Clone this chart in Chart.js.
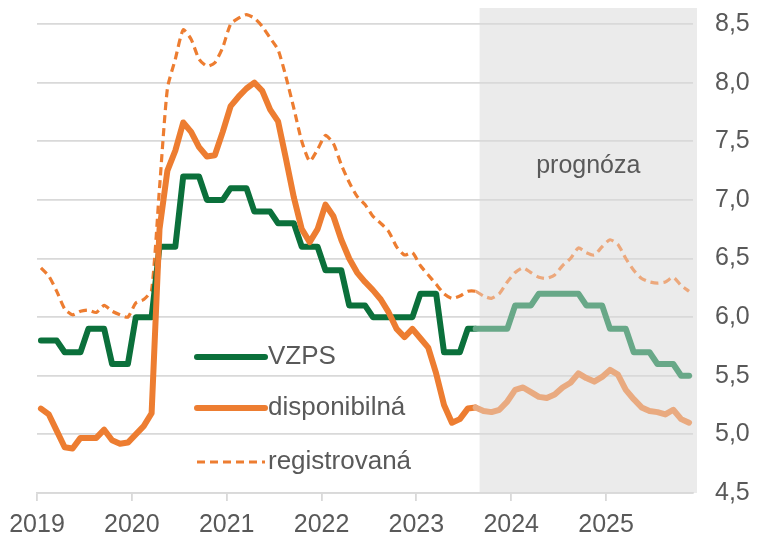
<!DOCTYPE html>
<html>
<head>
<meta charset="utf-8">
<script src="https://cdn.jsdelivr.net/npm/chart.js@4"></script>
<style>
  html, body { margin: 0; padding: 0; background: #fff; }
</style>
</head>
<body>
<canvas id="chart" width="757" height="539"></canvas>
<script>
// monthly values, Jan 2019 .. Nov 2025
const years = ["2019", "2020", "2021", "2022", "2023", "2024", "2025"];
const forecastStart = 56; // Sep 2023

const vzps = [
  5.8, 5.8, 5.8, 5.7, 5.7, 5.7, 5.9, 5.9, 5.9, 5.6, 5.6, 5.6,
  6.0, 6.0, 6.0, 6.6, 6.6, 6.6, 7.2, 7.2, 7.2, 7.0, 7.0, 7.0,
  7.1, 7.1, 7.1, 6.9, 6.9, 6.9, 6.8, 6.8, 6.8, 6.6, 6.6, 6.6,
  6.4, 6.4, 6.4, 6.1, 6.1, 6.1, 6.0, 6.0, 6.0, 6.0, 6.0, 6.0,
  6.2, 6.2, 6.2, 5.7, 5.7, 5.7, 5.9, 5.9, 5.9, 5.9, 5.9, 5.9,
  6.1, 6.1, 6.1, 6.2, 6.2, 6.2, 6.2, 6.2, 6.2, 6.1, 6.1, 6.1,
  5.9, 5.9, 5.9, 5.7, 5.7, 5.7, 5.6, 5.6, 5.6, 5.5, 5.5
];

const disponibilna = [
  5.22, 5.17, 5.03, 4.89, 4.88, 4.97, 4.97, 4.97, 5.04, 4.95, 4.92, 4.93,
  5.00, 5.07, 5.18, 6.75, 7.25, 7.42, 7.66, 7.58, 7.45, 7.37, 7.38, 7.58,
  7.80, 7.88, 7.95, 8.00, 7.93, 7.77, 7.67, 7.35, 7.02, 6.75, 6.64, 6.75,
  6.96, 6.86, 6.66, 6.50, 6.38, 6.30, 6.23, 6.15, 6.04, 5.90, 5.83, 5.90,
  5.82, 5.74, 5.52, 5.25, 5.10, 5.13, 5.22, 5.23, 5.20, 5.19, 5.21, 5.28,
  5.38, 5.40, 5.36, 5.32, 5.31, 5.34, 5.40, 5.44, 5.52, 5.48, 5.45, 5.49,
  5.55, 5.51, 5.38, 5.30, 5.23, 5.20, 5.19, 5.17, 5.21, 5.13, 5.10
];

const registrovana = [
  6.42, 6.35, 6.22, 6.07, 6.02, 6.05, 6.06, 6.04, 6.10, 6.05, 6.02, 6.00,
  6.12, 6.15, 6.23, 7.10, 7.95, 8.20, 8.45, 8.37, 8.20, 8.14, 8.17, 8.30,
  8.50, 8.55, 8.58, 8.55, 8.48, 8.38, 8.28, 8.05, 7.78, 7.50, 7.33, 7.43,
  7.55, 7.48, 7.30, 7.15, 7.03, 6.96, 6.86, 6.80, 6.73, 6.60, 6.53, 6.55,
  6.44, 6.36, 6.28, 6.20, 6.16, 6.18, 6.22, 6.22, 6.18, 6.16, 6.20, 6.30,
  6.38, 6.42, 6.38, 6.34, 6.33, 6.36, 6.44, 6.50, 6.59, 6.55, 6.53, 6.60,
  6.66, 6.62, 6.50, 6.40, 6.33, 6.30, 6.29, 6.30, 6.34, 6.27, 6.22
];

const textColor = "#595959";
const gridColor = "#d9d9d9";
const fontFamily = "'Liberation Sans', Arial, sans-serif";

// point sits in the middle of its month
const toPoints = (arr) => arr.map((v, i) => ({ x: i + 0.5, y: v }));
const splitColor = (dark, light) => (ctx) =>
  ctx.p1DataIndex >= forecastStart ? light : dark;

const forecastBox = {
  id: "forecastBox",
  beforeDraw(chart) {
    const { ctx, chartArea, scales } = chart;
    const left = scales.x.getPixelForValue(forecastStart);
    ctx.save();
    ctx.fillStyle = "#ebebeb";
    ctx.fillRect(left, chartArea.top - 16, chartArea.right + 4 - left, chartArea.bottom - chartArea.top + 16);
    ctx.fillStyle = textColor;
    ctx.font = "25px " + fontFamily;
    ctx.textAlign = "center";
    ctx.textBaseline = "middle";
    ctx.fillText("prognóza", (left + chartArea.right + 4) / 2, scales.y.getPixelForValue(7.29));
    ctx.restore();
  },
};

const innerLegend = {
  id: "innerLegend",
  afterDraw(chart) {
    const { ctx, chartArea } = chart;
    const x0 = chartArea.left + 160;
    const rows = [333, 384, 438];
    ctx.save();
    ctx.font = "26px " + fontFamily;
    ctx.textBaseline = "middle";
    chart.data.datasets.forEach((ds, i) => {
      const y = chartArea.top + rows[i];
      ctx.beginPath();
      ctx.strokeStyle = ds.borderColor;
      ctx.lineWidth = ds.borderWidth;
      ctx.lineCap = ds.borderDash ? "butt" : "round";
      ctx.setLineDash(ds.borderDash || []);
      ctx.moveTo(x0, y);
      ctx.lineTo(x0 + 68, y);
      ctx.stroke();
      ctx.setLineDash([]);
      ctx.fillStyle = textColor;
      ctx.fillText(ds.label, x0 + 71, y);
    });
    ctx.restore();
  },
};

new Chart(document.getElementById("chart"), {
  type: "line",
  data: {
    datasets: [
      {
        label: "VZPS",
        data: toPoints(vzps),
        borderColor: "#0b703b",
        segment: { borderColor: splitColor("#0b703b", "#68a888") },
        borderWidth: 6,
        borderCapStyle: "round",
        borderJoinStyle: "round",
        pointRadius: 0,
        order: 1,
      },
      {
        label: "disponibilná",
        data: toPoints(disponibilna),
        borderColor: "#ed7d31",
        segment: { borderColor: splitColor("#ed7d31", "#e9aa80") },
        borderWidth: 6,
        borderCapStyle: "round",
        borderJoinStyle: "round",
        pointRadius: 0,
        order: 0,
      },
      {
        label: "registrovaná",
        data: toPoints(registrovana),
        borderColor: "#ed7d31",
        segment: { borderColor: splitColor("#ed7d31", "#eca87c") },
        borderWidth: 3.2,
        borderDash: [8, 5],
        tension: 0.2,
        pointRadius: 0,
        clip: false,
        order: 2,
      },
    ],
  },
  options: {
    responsive: false,
    animation: false,
    devicePixelRatio: 1,
    layout: { padding: { left: 37, top: 24, right: 0, bottom: 0 } },
    plugins: { legend: { display: false }, tooltip: { enabled: false } },
    scales: {
      x: {
        type: "linear",
        min: 0,
        max: 83,
        afterFit(s) {
          s.paddingLeft = 0;
          s.paddingRight = 0;
          s.height = 46;
        },
        ticks: {
          stepSize: 12,
          includeBounds: false,
          autoSkip: false,
          maxRotation: 0,
          padding: 9,
          color: textColor,
          font: { family: fontFamily, size: 25 },
          callback: (v) => years[Math.round(v / 12)],
        },
        grid: { drawOnChartArea: false, drawTicks: true, tickLength: 8, color: gridColor, lineWidth: 1.8 },
        border: { display: true, color: gridColor, width: 1.8 },
      },
      y: {
        position: "right",
        min: 4.5,
        max: 8.5,
        afterFit(s) {
          s.width = 64;
          s.paddingTop = 0;
          s.paddingBottom = 0;
        },
        ticks: {
          stepSize: 0.5,
          padding: 22,
          color: textColor,
          font: { family: fontFamily, size: 25 },
          callback: (v) => v.toFixed(1).replace(".", ","),
        },
        grid: { color: gridColor, lineWidth: 1.8, drawTicks: false },
        border: { display: false },
      },
    },
  },
  plugins: [forecastBox, innerLegend],
});
</script>
</body>
</html>
